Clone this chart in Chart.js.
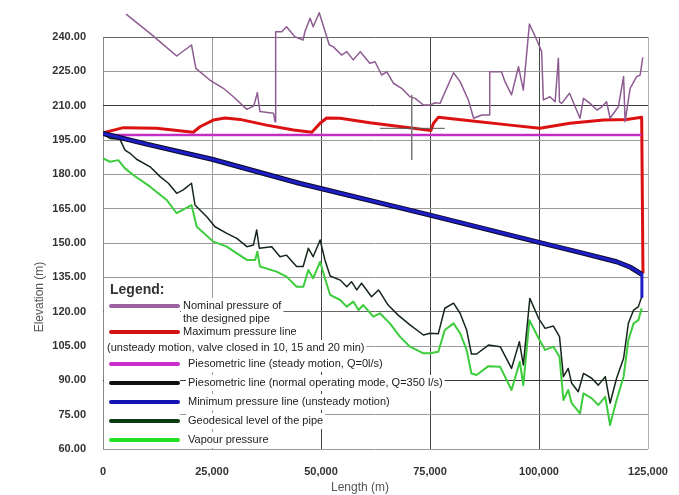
<!DOCTYPE html>
<html>
<head>
<meta charset="utf-8">
<script src="https://cdn.jsdelivr.net/npm/chart.js@4"></script>
<style>
  html, body { margin: 0; padding: 0; background: #fff; }
  #wrap { width: 679px; height: 495px; position: relative; }
</style>
</head>
<body>
<div id="wrap"><canvas id="myChart"></canvas></div>
<script>
// values: [length (m), elevation (m)]
const nominalPipe = [
    [5300, 250.0], [10800, 241.6], [13500, 237.2], [16900, 231.7], [20300, 236.5],
    [21300, 226.3], [24500, 221.2], [27600, 217.6], [29900, 213.9], [33000, 208.4],
    [34600, 209.9], [35400, 215.7], [36000, 207.4], [39100, 206.7], [39450, 203.0],
    [39600, 242.3], [41000, 242.3], [42100, 244.5], [44000, 240.1], [45900, 238.7],
    [46300, 242.3], [47500, 248.2], [48200, 244.5], [49600, 250.6], [51900, 236.5],
    [52800, 235.8], [54700, 232.1], [55900, 233.6], [57400, 230.0], [59000, 233.6],
    [61200, 228.5], [62400, 229.2], [63900, 223.4], [65100, 224.8], [66600, 219.8],
    [68500, 217.6], [70400, 213.9], [71600, 213.2], [73500, 210.3], [75000, 210.3],
    [76200, 211.3], [77300, 211.0], [80400, 224.4], [81900, 220.5], [83800, 212.5],
    [85000, 204.5], [86900, 205.9], [88600, 205.9], [88700, 224.8], [91400, 224.8],
    [92200, 220.5], [93700, 214.7], [95300, 227.0], [96400, 216.8], [97800, 245.7],
    [99500, 238.7], [100600, 233.6], [101000, 212.5], [102500, 213.9], [103700, 211.7],
    [104450, 230.7], [104700, 211.7], [105200, 211.0], [107000, 215.4], [109400, 204.5],
    [110200, 213.2], [111700, 211.0], [113300, 208.1], [114400, 209.5], [115500, 211.7],
    [116300, 204.5], [118200, 209.5], [119400, 222.7], [119750, 203.0], [120900, 217.6],
    [122400, 222.7], [123200, 223.4], [123800, 231.1]
]

const maxPressure = [
    [0, 198.2], [4700, 200.4], [12300, 200.1], [20700, 198.4], [22250, 200.8],
    [25300, 203.7], [28000, 204.6], [31400, 204.0], [37500, 201.5], [43700, 199.4],
    [47900, 198.4], [49800, 202.3], [51300, 204.6], [54400, 204.5], [61200, 202.5],
    [71200, 200.1], [75200, 199.1], [75800, 202.3], [76900, 204.9], [84200, 203.4],
    [93400, 201.5], [100200, 200.1], [107100, 202.3], [114800, 203.7], [120100, 204.0],
    [123550, 204.9], [123850, 136.7]
]

const steadyPiezo = [[0, 197.2], [123500, 197.2]]

const normalPiezo = [
    [0, 197.9], [10000, 193.2], [25000, 186.6], [45000, 176.1], [75000, 162.2],
    [100000, 150.3], [110000, 145.6], [117800, 141.8], [121000, 139.4], [123600, 136.3]
]

const minPressure = [
    [0, 197.9], [10000, 193.2], [25000, 186.6], [45000, 176.1], [75000, 162.2],
    [100000, 150.3], [110000, 145.6], [117800, 141.8], [121000, 139.4], [123600, 136.3],
    [123600, 126.5]
]

const pipeLevel = [
    [0, 197.6], [1600, 195.7], [3900, 195.3], [5050, 190.6], [6200, 189.2],
    [7700, 186.6], [10800, 183.3], [13100, 179.0], [15000, 176.1], [16900, 171.7],
    [18400, 173.2], [20300, 176.1], [21100, 166.6], [23800, 161.5], [25700, 157.1],
    [28400, 154.2], [30700, 152.0], [33000, 148.4], [34500, 149.1], [35250, 155.7],
    [35850, 147.7], [38700, 148.4], [40600, 144.0], [42100, 144.7], [44400, 139.7],
    [45900, 139.7], [47100, 147.7], [48200, 144.0], [49800, 151.3], [50900, 142.6],
    [52100, 135.6], [54400, 133.8], [55900, 130.9], [57000, 133.1], [58200, 129.5],
    [59300, 132.4], [61600, 126.5], [63200, 129.5], [65400, 122.9], [67700, 118.5],
    [70400, 114.2], [73500, 109.8], [75000, 110.6], [76900, 110.3], [78400, 121.5],
    [80400, 123.7], [81900, 119.3], [83400, 112.0], [84500, 101.5], [85700, 101.5],
    [88400, 105.4], [91100, 104.7], [93700, 95.2], [95500, 106.9], [96400, 96.7],
    [97900, 125.8], [99900, 117.1], [101400, 112.7], [103300, 113.7], [104700, 109.1],
    [105600, 91.6], [106700, 95.2], [107500, 88.7], [109000, 85.0], [110200, 93.0],
    [112100, 90.9], [113600, 87.9], [115200, 91.6], [116300, 80.0], [117800, 90.9],
    [119400, 99.6], [120500, 114.9], [121700, 120.7], [122800, 122.2], [123550, 126.5]
]

const vapourPressure = [
    [0, 187.0], [1600, 185.5], [3500, 186.2], [5050, 182.6], [6950, 179.7],
    [10800, 174.6], [14600, 168.8], [16900, 163.0], [20300, 166.6], [21500, 157.1],
    [25300, 150.6], [28400, 148.4], [30700, 145.5], [33000, 142.6], [34900, 142.6],
    [35400, 146.2], [36000, 139.7], [39800, 137.5], [42100, 135.3], [44400, 130.9],
    [45950, 130.9], [47100, 138.2], [48200, 134.6], [49800, 141.8], [50900, 134.6],
    [52100, 127.3], [54400, 125.1], [55900, 122.2], [57400, 124.4], [58600, 120.7],
    [59700, 122.9], [62000, 117.8], [63500, 119.3], [65800, 114.9], [68100, 109.1],
    [70400, 104.7], [73500, 101.8], [75000, 101.8], [76900, 102.5], [78400, 112.0],
    [80400, 114.9], [81900, 110.6], [83400, 103.3], [84500, 93.0], [85700, 92.3],
    [88400, 96.2], [91100, 95.9], [93700, 85.8], [95600, 98.1], [96400, 87.9],
    [97800, 116.3], [99900, 108.4], [101400, 103.3], [103300, 104.7], [104700, 100.3],
    [105600, 81.4], [106700, 85.8], [107500, 80.0], [109400, 75.6], [110200, 84.3],
    [112100, 82.1], [113600, 79.2], [115200, 82.8], [116300, 70.5], [117800, 81.4],
    [119400, 91.6], [120500, 107.6], [121700, 114.9], [122800, 116.3], [123550, 121.5]
]

// small cross mark left on the picture
const crossH = [[63500, 200.1], [78400, 200.1]]
const crossV = [[70800, 214.7], [70800, 186.3]]

const xTicks = [0, 25000, 50000, 75000, 100000, 125000]
const yTicks = [60, 75, 90, 105, 120, 135, 150, 165, 180, 195, 210, 225, 240]

const legendTitle = 'Legend:'
const legendRows = [
    {color: '#9a62a0', lines: ['Nominal pressure of', 'the designed pipe']},
    {color: '#d41414', lines: ['Maximum pressure line', '(unsteady motion, valve closed in 10, 15 and 20 min)']},
    {color: '#cc2ccc', lines: ['Piesometric line (steady motion, Q=0l/s)']},
    {color: '#111111', lines: ['Piesometric line (normal operating mode, Q=350 l/s)']},
    {color: '#1414b4', lines: ['Minimum pressure line (unsteady motion)']},
    {color: '#0c3a12', lines: ['Geodesical level of the pipe']},
    {color: '#22e022', lines: ['Vapour pressure']}
]

function pts(arr) {
    return arr.map((p) => ({x: p[0], y: p[1]}))
}

const darkY = {210: '#3a3a3a', 90: '#3a3a3a', 120: '#666', 240: '#666'}
const darkX = {50000: '#444', 75000: '#444', 100000: '#444', 125000: '#b0b0b0', 0: '#888'}

const FONT = "'Liberation Sans', Arial, sans-serif"

// legend drawn on a white ground, under the data lines
const legendPlugin = {
    id: 'pipeLegend',
    beforeDatasetsDraw(chart) {
        const ctx = chart.ctx
        const a = chart.chartArea
        const L = a.left
        const B = a.bottom
        ctx.save()
        ctx.font = '11px ' + FONT
        ctx.textBaseline = 'middle'
        // row layout (offsets from the bottom-left corner of the plot)
        const rows = [
            {dy: -143, texts: [[80, -143], [80, -130]]},
            {dy: -117, texts: [[80, -117], [4, -101]]},
            {dy: -85, texts: [[85, -85]]},
            {dy: -66, texts: [[85, -66]]},
            {dy: -47, texts: [[85, -47]]},
            {dy: -28, texts: [[85, -28]]},
            {dy: -9, texts: [[85, -9]]}
        ]
        // white ground
        ctx.fillStyle = '#fff'
        ctx.fillRect(L + 1, B - 170, 76, 169)
        ctx.font = 'bold 14px ' + FONT
        ctx.fillRect(L + 1, B - 168, ctx.measureText(legendTitle).width + 12, 16)
        ctx.font = '11px ' + FONT
        legendRows.forEach((r, i) => {
            rows[i].texts.forEach((t, j) => {
                const w = ctx.measureText(r.lines[j]).width
                ctx.fillRect(L + t[0] - 2, B + t[1] - 8, w + 4, 16)
            })
        })
        // title
        ctx.fillStyle = '#333'
        ctx.font = 'bold 14px ' + FONT
        ctx.fillText(legendTitle, L + 7, B - 159)
        // rows
        ctx.font = '11px ' + FONT
        legendRows.forEach((r, i) => {
            ctx.strokeStyle = r.color
            ctx.lineWidth = 4
            ctx.lineCap = 'round'
            ctx.beginPath()
            ctx.moveTo(L + 8, B + rows[i].dy)
            ctx.lineTo(L + 75, B + rows[i].dy)
            ctx.stroke()
            ctx.fillStyle = '#222'
            rows[i].texts.forEach((t, j) => {
                ctx.fillText(r.lines[j], L + t[0], B + t[1])
            })
        })
        ctx.restore()
    },
    afterDraw(chart) {
        const ctx = chart.ctx
        const a = chart.chartArea
        ctx.save()
        ctx.fillStyle = '#555'
        ctx.font = '12px ' + FONT
        ctx.textAlign = 'center'
        ctx.textBaseline = 'middle'
        ctx.fillText('Length (m)', 360, a.bottom + 39)
        ctx.translate(40, 297)
        ctx.rotate(-Math.PI / 2)
        ctx.fillText('Elevation (m)', 0, 0)
        ctx.restore()
    }
}

// Chart.js paints the first dataset on top, so the list runs top -> bottom
const ctx = document.getElementById('myChart')
const myChart = new Chart(ctx, {
    type: 'line',
    data: {
        datasets: [
            {data: pts(crossV), borderColor: '#777', borderWidth: 1},
            {data: pts(crossH), borderColor: '#555', borderWidth: 1},
            {data: pts(minPressure), borderColor: '#1e1ec8', borderWidth: 3},
            {data: pts(normalPiezo), borderColor: '#0a0a22', borderWidth: 5},
            {data: pts(pipeLevel), borderColor: '#15261a', borderWidth: 1.5},
            {data: pts(vapourPressure), borderColor: '#3ccc3c', borderWidth: 2},
            {data: pts(nominalPipe), borderColor: '#8e5b92', borderWidth: 1.5, clip: false},
            {data: pts(steadyPiezo), borderColor: '#c42cc4', borderWidth: 2.5},
            {data: pts(maxPressure), borderColor: '#dc1212', borderWidth: 3}
        ]
    },
    options: {
        responsive: true,
        maintainAspectRatio: false,
        animation: false,
        elements: {
            point: {radius: 0},
            line: {tension: 0, borderJoinStyle: 'round'}
        },
        layout: {padding: {left: 0, top: 37, right: 31, bottom: 0}},
        plugins: {
            legend: {display: false},
            tooltip: {enabled: false}
        },
        scales: {
            x: {
                type: 'linear',
                min: 0,
                max: 125000,
                afterFit: (s) => { s.height = 46 },
                afterBuildTicks: (s) => { s.ticks = xTicks.map((v) => ({value: v})) },
                ticks: {
                    padding: 10,
                    color: '#333',
                    font: {family: FONT, size: 11, weight: 'bold'},
                    callback: (v) => v.toLocaleString('en-US')
                },
                grid: {
                    drawTicks: true,
                    tickLength: 6,
                    tickColor: 'rgba(0,0,0,0)',
                    color: (c) => darkX[c.tick.value] || '#9a9a9a'
                },
                border: {display: false}
            },
            y: {
                min: 60,
                max: 240,
                afterFit: (s) => { s.width = 103 },
                afterBuildTicks: (s) => { s.ticks = yTicks.map((v) => ({value: v})) },
                ticks: {
                    padding: 17,
                    color: '#333',
                    font: {family: FONT, size: 11, weight: 'bold'},
                    callback: (v) => v.toFixed(2)
                },
                grid: {
                    drawTicks: false,
                    color: (c) => darkY[c.tick.value] || '#9a9a9a'
                },
                border: {display: false}
            }
        }
    },
    plugins: [legendPlugin]
})
</script>
</body>
</html>
